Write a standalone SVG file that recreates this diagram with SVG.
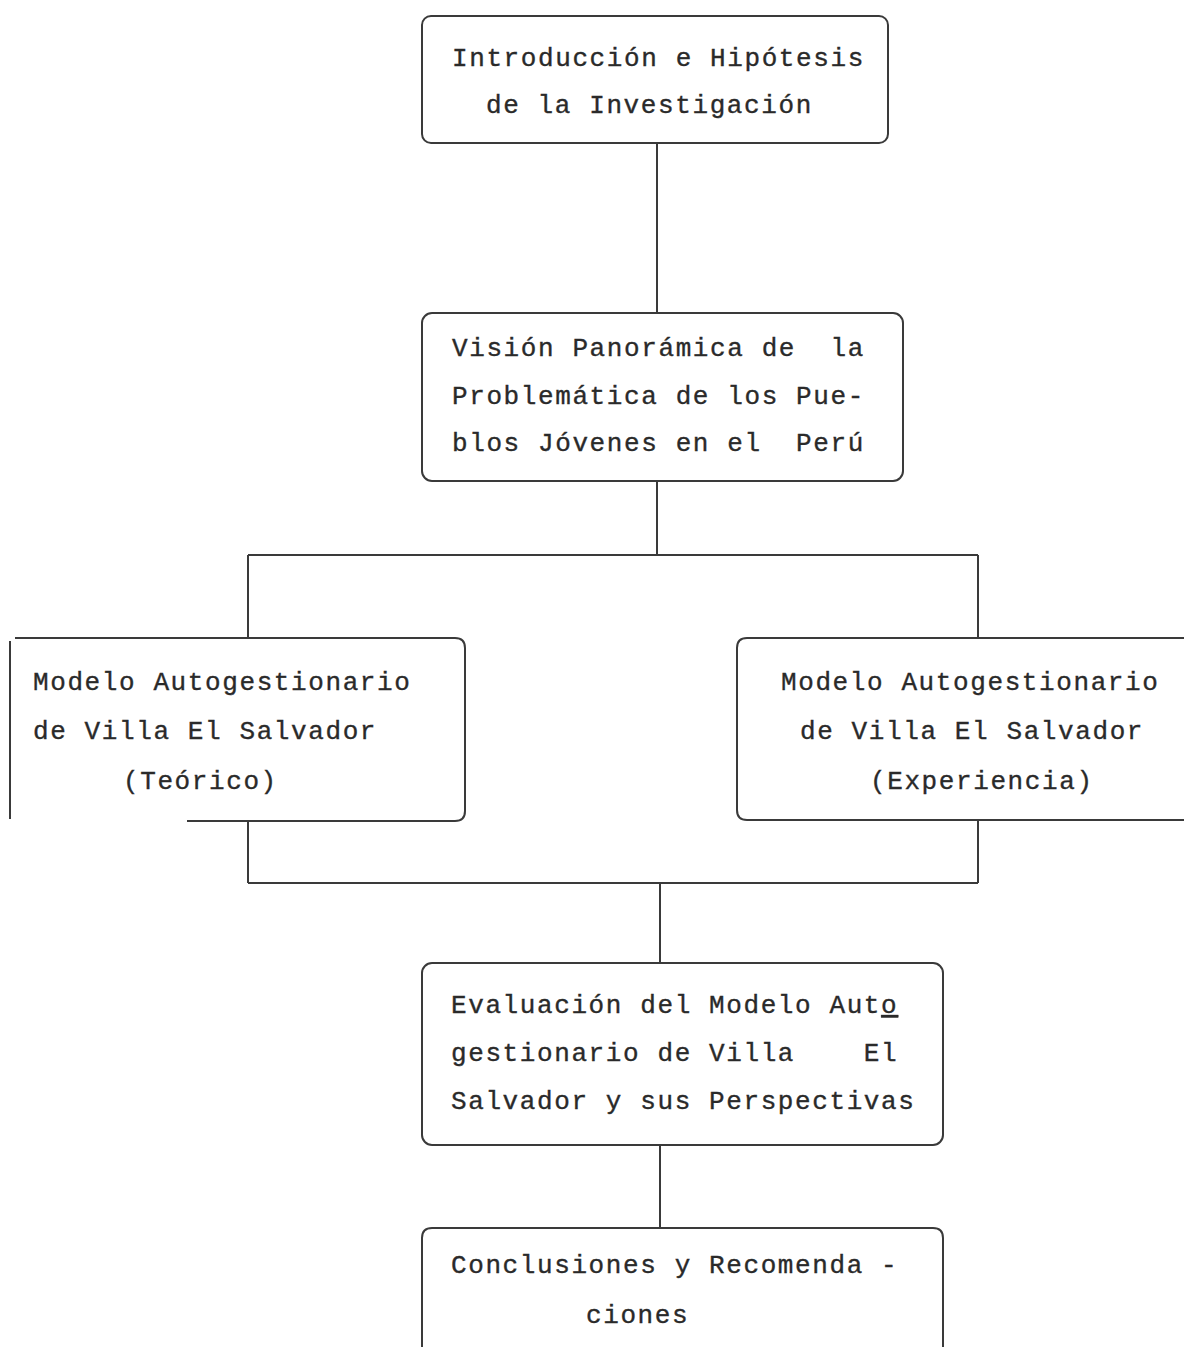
<svg xmlns="http://www.w3.org/2000/svg" width="1184" height="1347" viewBox="0 0 1184 1347">
<style>
.box{fill:none;stroke:#3a3a3a;stroke-width:2}
.con{fill:none;stroke:#3a3a3a;stroke-width:2}
.t{font-family:"Liberation Mono","DejaVu Sans Mono",monospace;font-size:26px;letter-spacing:1.6px;fill:#2a2a2a;stroke:#2a2a2a;stroke-width:0.35;white-space:pre}
.u{text-decoration:underline}
</style>
<rect width="1184" height="1347" fill="#ffffff"/>
<g id="connectors">
<line class="con" x1="657" y1="143" x2="657" y2="313"/>
<line class="con" x1="657" y1="481" x2="657" y2="555"/>
<line class="con" x1="248" y1="555" x2="978" y2="555"/>
<line class="con" x1="248" y1="555" x2="248" y2="638"/>
<line class="con" x1="978" y1="555" x2="978" y2="638"/>
<line class="con" x1="248" y1="821" x2="248" y2="883"/>
<line class="con" x1="978" y1="820" x2="978" y2="883"/>
<line class="con" x1="248" y1="883" x2="978" y2="883"/>
<line class="con" x1="660" y1="883" x2="660" y2="963"/>
<line class="con" x1="660" y1="1145" x2="660" y2="1228"/>
</g>
<g id="n1">
<rect class="box" x="422" y="16" width="466" height="127" rx="9"/>
<text class="t" x="452" y="66" xml:space="preserve">Introducción e Hipótesis</text>
<text class="t" x="486" y="113" xml:space="preserve">de la Investigación</text>
</g>
<g id="n2">
<rect class="box" x="422" y="313" width="481" height="168" rx="10"/>
<text class="t" x="452" y="356" xml:space="preserve">Visión Panorámica de  la</text>
<text class="t" x="452" y="404" xml:space="preserve">Problemática de los Pue-</text>
<text class="t" x="452" y="451" xml:space="preserve">blos Jóvenes en el  Perú</text>
</g>
<g id="n3">
<line class="box" x1="10" y1="641" x2="10" y2="819"/>
<path class="box" d="M15 638 H455 Q465 638 465 648 V811 Q465 821 455 821 H187"/>
<text class="t" x="33" y="690" xml:space="preserve">Modelo Autogestionario</text>
<text class="t" x="33" y="739" xml:space="preserve">de Villa El Salvador</text>
<text class="t" x="123" y="789" xml:space="preserve">(Teórico)</text>
</g>
<g id="n4">
<path class="box" d="M1184 638 H747 Q737 638 737 648 V810 Q737 820 747 820 H1184"/>
<text class="t" x="781" y="690" xml:space="preserve">Modelo Autogestionario</text>
<text class="t" x="800" y="739" xml:space="preserve">de Villa El Salvador</text>
<text class="t" x="870" y="789" xml:space="preserve">(Experiencia)</text>
</g>
<g id="n5">
<rect class="box" x="422" y="963" width="521" height="182" rx="10"/>
<text class="t" x="451" y="1013" xml:space="preserve">Evaluación del Modelo Aut<tspan class="u">o</tspan></text>
<text class="t" x="451" y="1061" xml:space="preserve">gestionario de Villa    El</text>
<text class="t" x="451" y="1109" xml:space="preserve">Salvador y sus Perspectivas</text>
</g>
<g id="n6">
<path class="box" d="M422 1350 V1238 Q422 1228 432 1228 H933 Q943 1228 943 1238 V1350"/>
<text class="t" x="451" y="1273" xml:space="preserve">Conclusiones y Recomenda -</text>
<text class="t" x="586" y="1323" xml:space="preserve">ciones</text>
</g>
</svg>
